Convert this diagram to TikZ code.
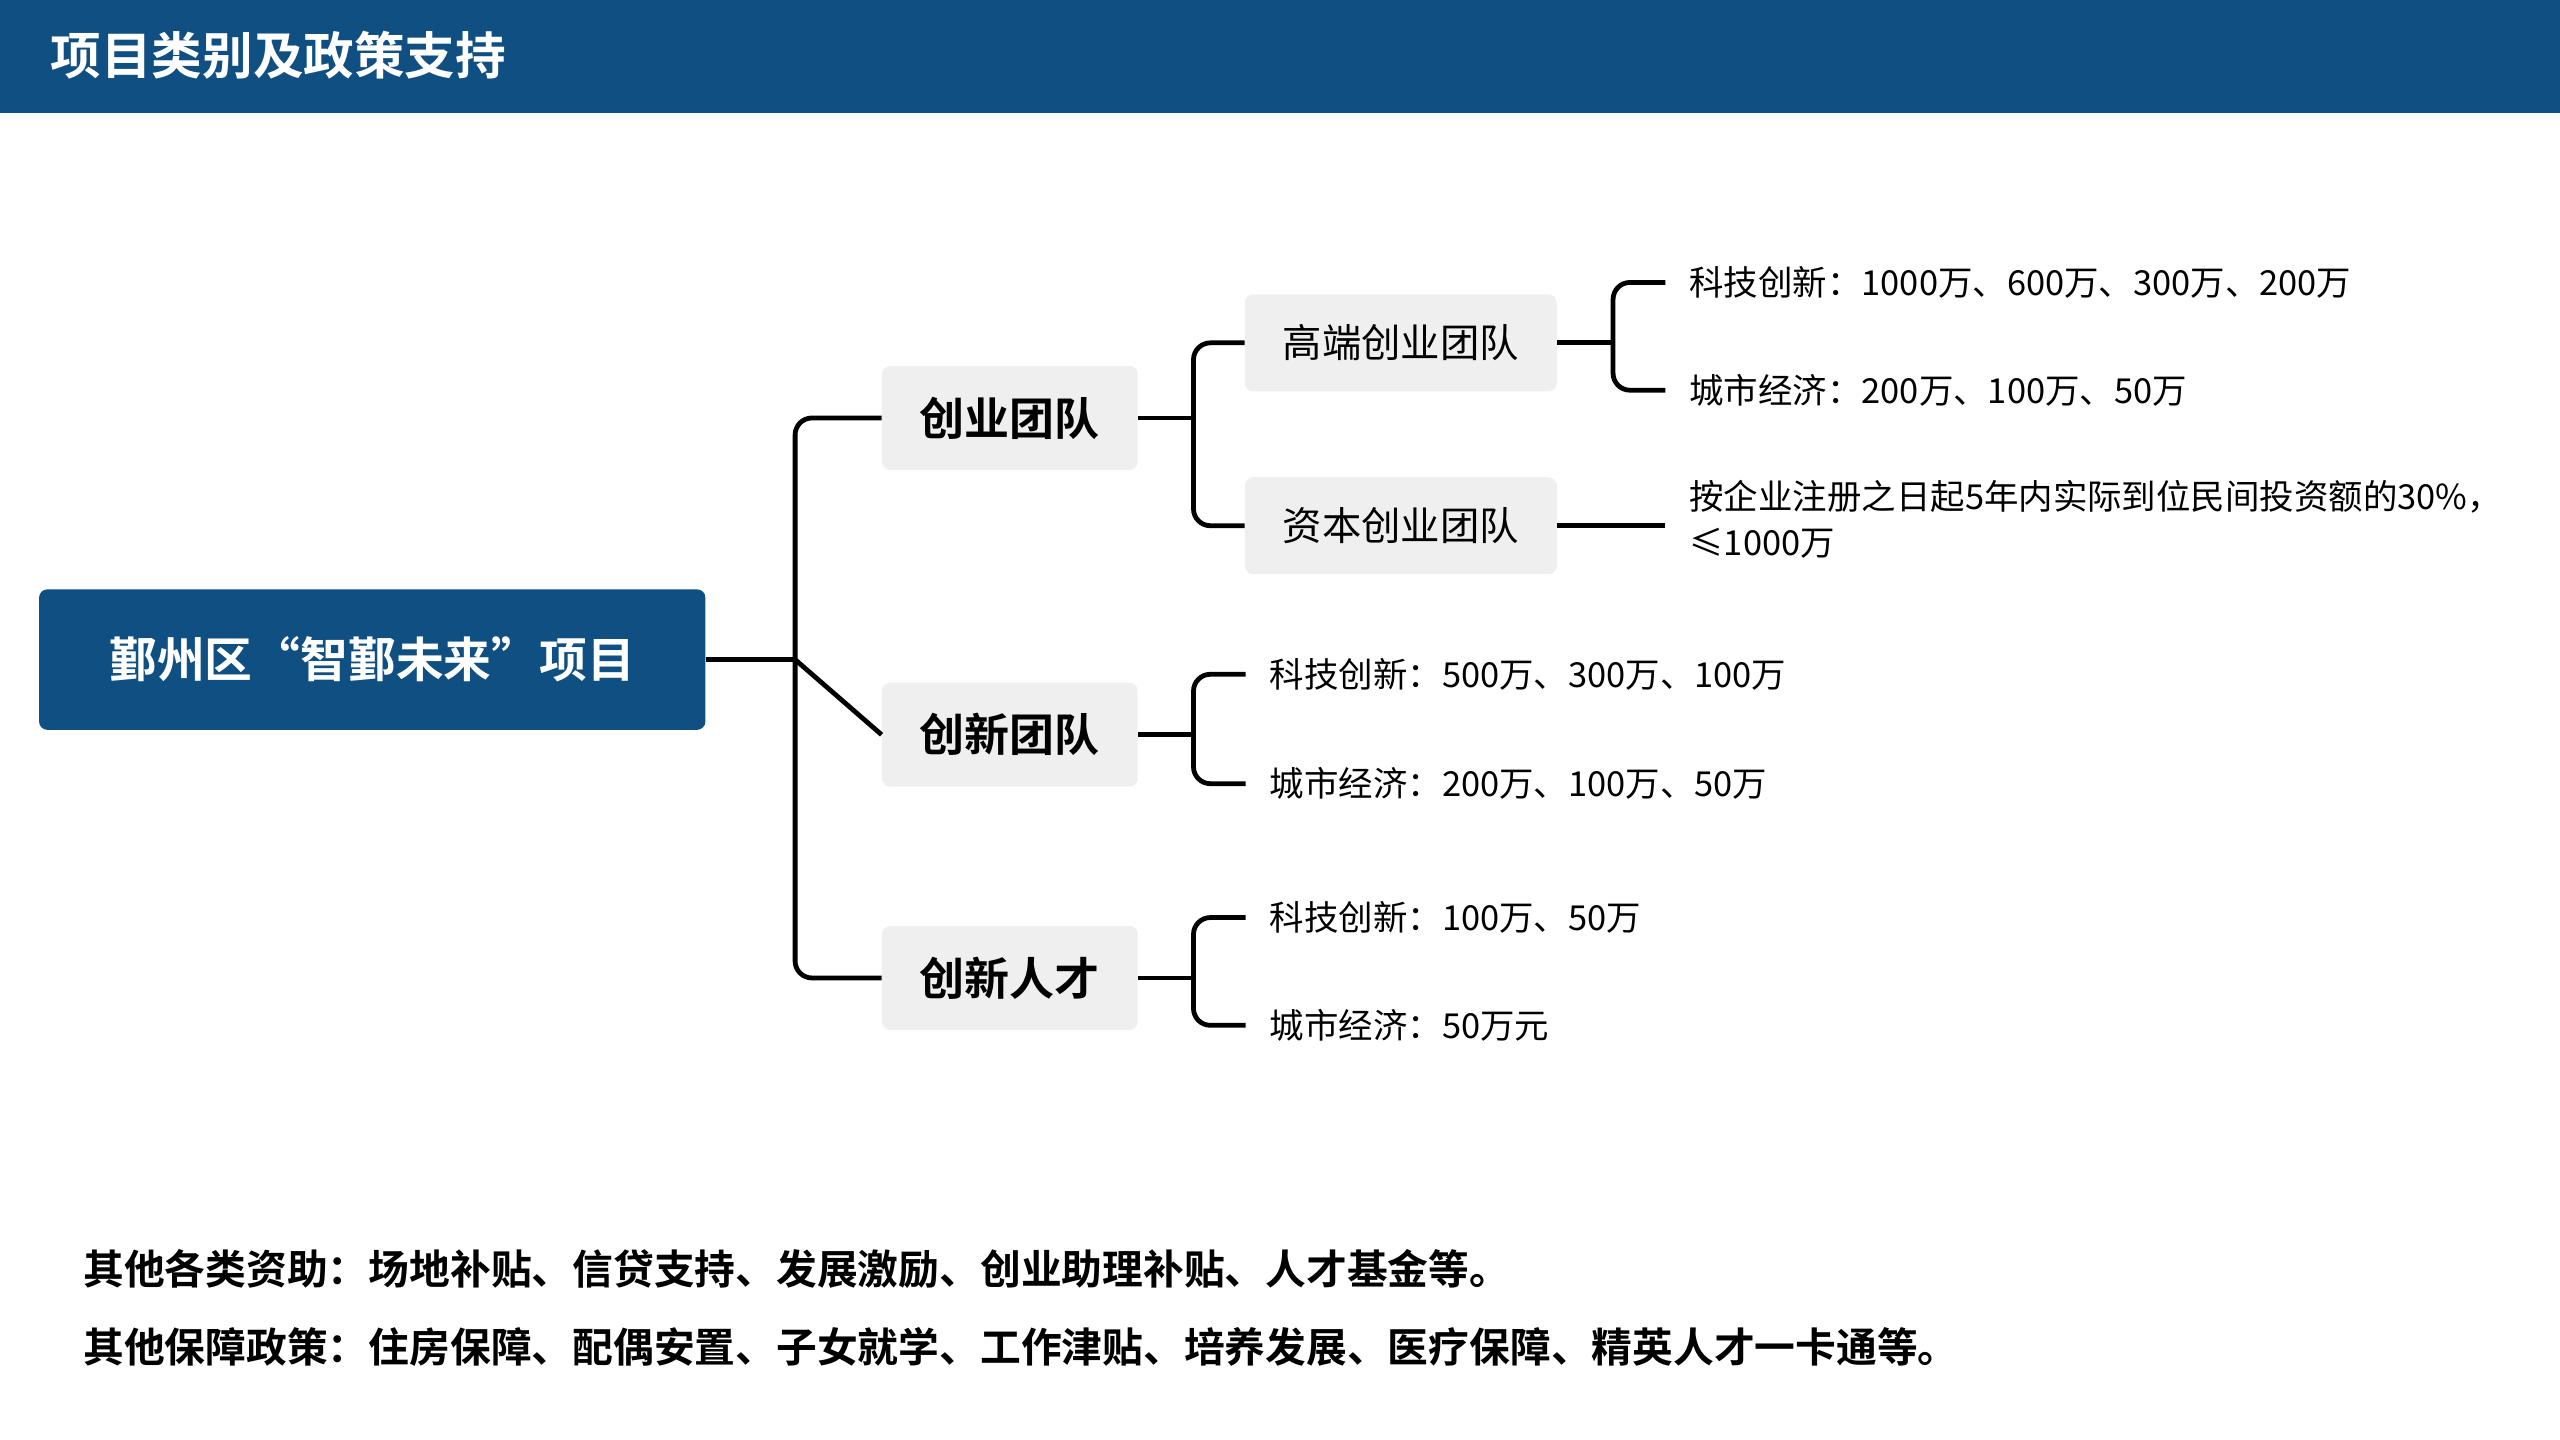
\documentclass[tikz,border=0pt]{standalone}
\usepackage{fontspec}
\setmainfont{Noto Sans CJK SC}
\newfontfamily\cjkb{Noto Sans CJK SC Bold}
\begin{document}
\begin{tikzpicture}[x=0.040816cm,y=-0.040816cm,
  conn/.style={line width=3.4pt,rounded corners=12pt},
  mainbox/.style={fill=hdblue,rounded corners=6pt,minimum width=474pt,minimum height=100pt,text=white,font=\cjkb\fontsize{34}{40}\selectfont},
  lvone/.style={fill=nodegray,rounded corners=6pt,minimum width=182pt,minimum height=74pt,font=\cjkb\fontsize{32}{38}\selectfont},
  lvtwo/.style={fill=nodegray,rounded corners=6pt,minimum width=222pt,minimum height=69pt,font=\fontsize{28}{34}\selectfont},
  leaf/.style={anchor=west,inner xsep=17pt,inner ysep=2pt,font=\fontsize{24.5}{34}\selectfont,align=left},
  bottomtxt/.style={anchor=west,font=\cjkb\fontsize{29}{34}\selectfont}]
\definecolor{hdblue}{HTML}{104F82}
\definecolor{nodegray}{HTML}{EFEFEF}
\useasboundingbox (0,0) rectangle (1568,882);
\fill[hdblue] (0,0) rectangle (1568,69);
\node[anchor=west,text=white,font=\cjkb\fontsize{36}{40}\selectfont] (title) at (28,34) {项目类别及政策支持};
\node[mainbox] (main) at (228,404) {鄞州区“智鄞未来”项目};
\node[lvone] (cy) at (618.5,256) {创业团队};
\node[lvone] (cx) at (618.5,450) {创新团队};
\node[lvone] (rc) at (618.5,599) {创新人才};
\node[lvtwo] (gd) at (858,210) {高端创业团队};
\node[lvtwo] (zb) at (858,322) {资本创业团队};
\node[leaf] (gd1) at (1020,173) {科技创新：1000万、600万、300万、200万};
\node[leaf] (gd2) at (1020,239) {城市经济：200万、100万、50万};
\node[leaf,text width=520pt,font=\fontsize{24.5}{33}\selectfont] (zb1) at (1020,318) {按企业注册之日起5年内实际到位民间投资额的30\%，\\≤1000万};
\node[leaf] (cx1) at (763,413) {科技创新：500万、300万、100万};
\node[leaf] (cx2) at (763,480) {城市经济：200万、100万、50万};
\node[leaf] (rc1) at (763,562) {科技创新：100万、50万};
\node[leaf] (rc2) at (763,628) {城市经济：50万元};
\coordinate (t0) at (487,404);
\coordinate (t1) at (731,266);
\coordinate (t2) at (988,210);
\coordinate (t3) at (731,450);
\coordinate (t4) at (731,599);
\draw[conn] (main.east) -- (t0);
\draw[conn] (cy.west) -| (t0) |- (rc.west);
\draw[conn] (t0) -- (cx.west);
\draw[conn] (cy.east) -- (cy.east -| t1);
\draw[conn] (gd.west) -| (t1) |- (zb.west);
\draw[conn] (gd.east) -- (gd.east -| t2);
\draw[conn] (gd1.west) -| (t2) |- (gd2.west);
\draw[conn] (zb.east) -- (zb.east -| zb1.west);
\draw[conn] (cx.east) -- (t3);
\draw[conn] (cx1.west) -| (t3) |- (cx2.west);
\draw[conn] (rc.east) -- (t4);
\draw[conn] (rc1.west) -| (t4) |- (rc2.west);
\node[bottomtxt] (b1) at (48,777) {其他各类资助：场地补贴、信贷支持、发展激励、创业助理补贴、人才基金等。};
\node[bottomtxt] (b2) at (48,825) {其他保障政策：住房保障、配偶安置、子女就学、工作津贴、培养发展、医疗保障、精英人才一卡通等。};
\end{tikzpicture}
\end{document}
